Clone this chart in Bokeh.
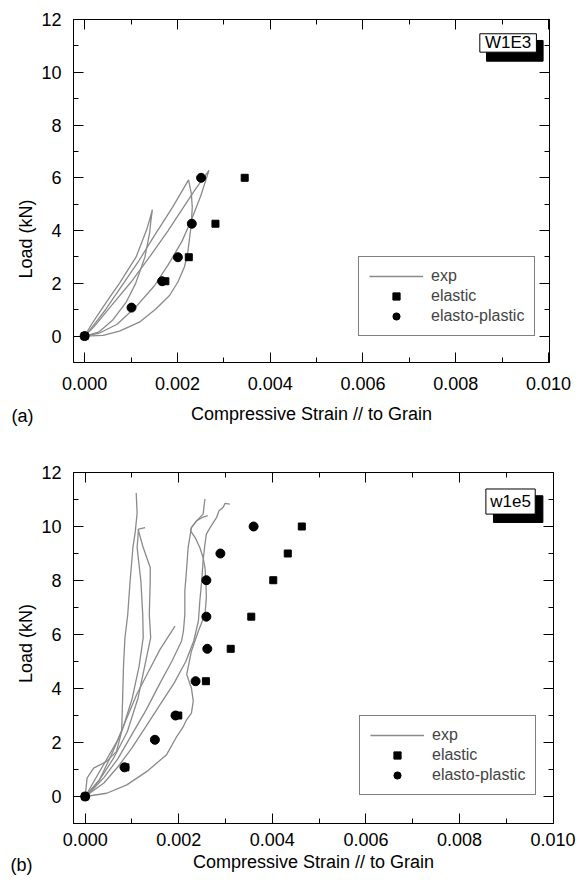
import numpy as np
from bokeh.plotting import figure
from bokeh.models import (LinearAxis, Range1d, FixedTicker, PrintfTickFormatter,
                          Legend, LegendItem, Label, BoxAnnotation)
from bokeh.layouts import column, row
from bokeh.core.properties import value
from bokeh.embed import file_html
from bokeh.resources import INLINE

FONT = "Liberation Sans"
GRAY = "#8a8a8a"

# ---------------- data ----------------
x_major = [0.000, 0.002, 0.004, 0.006, 0.008, 0.010]
x_minor = [0.001, 0.003, 0.005, 0.007, 0.009]
y_major = [0, 2, 4, 6, 8, 10, 12]
y_minor = [1, 3, 5, 7, 9, 11]

# panel (a) W1E3
a_el_strain = [0.0, 0.00174, 0.002245, 0.00282, 0.00345]
a_el_load = [0.0, 2.08, 2.99, 4.26, 6.0]
a_ep_strain = [0.0, 0.00101, 0.00167, 0.00201, 0.00231, 0.00251]
a_ep_load = [0.0, 1.08, 2.08, 2.99, 4.26, 6.0]

a_exp1_x = [0, 0.0003, 0.0006, 0.0009, 0.0011, 0.0013, 0.0014, 0.00143, 0.00146,
            0.00140, 0.00133, 0.00122, 0.00111, 0.00093, 0.00075, 0.00055, 0.00036, 0.00015, 0]
a_exp1_y = [0, 0.15, 0.6, 1.3, 2.0, 3.0, 3.9, 4.4, 4.79,
            4.4, 4.0, 3.5, 3.0, 2.5, 2.0, 1.5, 1.0, 0.45, 0]
a_exp2_x = [0, 0.0004, 0.00075, 0.00118, 0.00154, 0.00183, 0.00201, 0.00215, 0.00222,
            0.00226, 0.0023, 0.00232, 0.0023, 0.00224,
            0.0019, 0.0015, 0.00115, 0.0008, 0.00045, 0.0001, 0]
a_exp2_y = [0, 0.03, 0.19, 0.53, 1.04, 1.54, 2.05, 2.62, 3.12,
            3.69, 4.26, 4.89, 5.4, 5.92,
            4.9, 3.8, 2.8, 1.9, 1.0, 0.2, 0]
a_exp3_x = [0, 0.0003, 0.0007, 0.0011, 0.0015, 0.0018, 0.0021, 0.0023, 0.0025, 0.00268,
            0.0024, 0.0021, 0.0018, 0.0014, 0.001, 0.0006, 0.0002, 0]
a_exp3_y = [0, 0.1, 0.45, 1.1, 1.9, 2.7, 3.6, 4.4, 5.3, 6.28,
            5.6, 4.8, 4.0, 3.0, 2.05, 1.2, 0.35, 0]
a_exp = [(a_exp1_x, a_exp1_y), (a_exp2_x, a_exp2_y), (a_exp3_x, a_exp3_y)]

# panel (b) w1e5
b_el_strain = [0.0, 0.00086, 0.00199, 0.00258, 0.00311, 0.00355, 0.00402, 0.00433, 0.00463]
b_el_load = [0.0, 1.08, 3.0, 4.27, 5.47, 6.66, 8.01, 9.0, 10.0]
b_ep_strain = [0.0, 0.00084, 0.00149, 0.00193, 0.00236, 0.00261, 0.00259, 0.00259, 0.00289, 0.00360]
b_ep_load = [0.0, 1.08, 2.1, 3.0, 4.27, 5.47, 6.66, 8.01, 9.0, 10.0]

b_exp1_x = [0, 0.00004, 0.00018, 0.00046, 0.00067, 0.00078, 0.0008, 0.00082, 0.00085,
            0.00091, 0.00096, 0.00102, 0.00107, 0.00111, 0.00109]
b_exp1_y = [0, 0.68, 1.05, 1.3, 1.67, 2.41, 3.65, 4.89, 5.88,
            6.75, 7.98, 9.22, 9.8, 10.5, 11.24]
b_exp2_x = [0.00128, 0.00114, 0.00111, 0.00119, 0.00123, 0.00124, 0.00115, 0.001,
            0.0008, 0.00055, 0.0003, 0]
b_exp2_y = [9.96, 9.9, 9.22, 7.98, 6.75, 5.88, 4.8, 3.6, 2.5, 1.5, 0.6, 0]
b_exp3_x = [0.00113, 0.00124, 0.00139, 0.00139, 0.00137, 0.0014, 0.00128, 0.00113,
            0.0009, 0.0006, 0.0003, 0]
b_exp3_y = [9.9, 9.22, 8.48, 7.98, 6.75, 5.88, 4.89, 3.65, 2.4, 1.4, 0.6, 0]
b_exp4_x = [0, 0.00068, 0.00089, 0.0011, 0.00132, 0.0016, 0.00192]
b_exp4_y = [0, 2.04, 2.91, 3.78, 4.52, 5.45, 6.31]
b_exp5_x = [0, 0.00046, 0.00089, 0.00132, 0.00174, 0.00196, 0.0021, 0.00217, 0.00227,
            0.00231, 0.00227, 0.00217, 0.00227, 0.00242, 0.00256, 0.00259, 0.00258,
            0.00256, 0.00252, 0.00245, 0.00235, 0.00225, 0.00227, 0.00238, 0.00252, 0.00256]
b_exp5_y = [0, 0.12, 0.43, 0.93, 1.55, 2.23, 2.6, 2.85, 3.09,
            3.53, 4.02, 4.52, 5.38, 6.13, 6.75, 7.36, 7.98,
            8.48, 8.85, 9.22, 9.59, 9.84, 9.96, 10.21, 10.46, 11.02]
b_exp6_x = [0.00309, 0.00299, 0.00295, 0.00286, 0.00281, 0.00267, 0.00259, 0.00256,
            0.00252, 0.00249, 0.00245, 0.00242, 0.00232, 0.00215, 0.0019, 0.0016,
            0.0013, 0.001, 0.0007, 0.0004, 0]
b_exp6_y = [10.83, 10.86, 10.71, 10.58, 10.34, 9.96, 9.72, 9.35,
            8.73, 7.98, 7.24, 6.5, 5.76, 5.0, 4.2, 3.4,
            2.6, 1.8, 1.1, 0.5, 0]
b_exp7_x = [0.00262, 0.00252, 0.00238, 0.00227, 0.0022, 0.00217, 0.00213, 0.00213,
            0.0021, 0.00206, 0.00185, 0.0016, 0.0013, 0.001, 0.0007, 0.0004, 0.0001, 0]
b_exp7_y = [10.4, 10.35, 10.21, 9.96, 9.22, 8.48, 7.61, 6.75,
            6.13, 5.76, 5.0, 4.2, 3.2, 2.3, 1.4, 0.7, 0.15, 0]
b_exp = [(b_exp1_x, b_exp1_y), (b_exp2_x, b_exp2_y), (b_exp3_x, b_exp3_y),
         (b_exp4_x, b_exp4_y), (b_exp5_x, b_exp5_y), (b_exp6_x, b_exp6_y),
         (b_exp7_x, b_exp7_y)]

STRIP_W = 38
TOTAL_W = 576


def make_strip(height, ylab_xy, panel_lab):
    s = figure(width=STRIP_W, height=height, output_backend="svg", toolbar_location=None,
               x_range=Range1d(0, STRIP_W), y_range=Range1d(0, height),
               min_border=0, min_border_left=0, min_border_right=0,
               min_border_top=0, min_border_bottom=0,
               x_axis_location=None, y_axis_location=None)
    s.frame_align = False
    s.grid.visible = False
    s.outline_line_color = None
    s.background_fill_color = "white"
    s.border_fill_color = "white"
    s.text(x=[ylab_xy[0]], y=[height - ylab_xy[1]], text=["Load (kN)"], angle=np.pi / 2,
           text_align="center", text_baseline="middle", text_font=value(FONT),
           text_font_size="18px", text_color="black")
    s.text(x=[panel_lab[0]], y=[height - panel_lab[1]], text=[panel_lab[2]],
           text_align="left", text_baseline="middle", text_font=value(FONT),
           text_font_size="18px", text_color="black")
    return s


def make_panel(height, borders, xr, exp, el, ep, tag, tag_box, shadow_box,
               legend_loc, tick_std, title_std):
    top, bottom, left, right = borders
    p = figure(width=TOTAL_W - STRIP_W, height=height, output_backend="svg",
               toolbar_location=None,
               x_range=Range1d(*xr), y_range=Range1d(-1, 12),
               min_border_top=top, min_border_bottom=bottom,
               min_border_left=left, min_border_right=right,
               x_axis_location=None, y_axis_location=None)
    p.frame_align = False
    p.grid.visible = False
    p.outline_line_color = "black"
    p.outline_line_width = 1
    p.background_fill_color = "white"
    p.border_fill_color = "white"

    def style(ax, ticks, minor, show):
        ax.ticker = FixedTicker(ticks=ticks, minor_ticks=minor)
        ax.axis_line_color = "black"
        ax.major_tick_in = 10
        ax.major_tick_out = 0
        ax.minor_tick_in = 5
        ax.minor_tick_out = 0
        ax.major_tick_line_color = "black"
        ax.minor_tick_line_color = "black"
        ax.major_label_text_font = FONT
        if show:
            ax.major_label_text_font_size = "18px"
            ax.major_label_text_color = "black"
        else:
            ax.major_label_text_font_size = "1px"
            ax.major_label_text_color = None
            ax.major_label_standoff = 0
        ax.axis_label_text_font = FONT
        ax.axis_label_text_font_size = "18px"
        ax.axis_label_text_font_style = "normal"
        ax.axis_label_text_color = "black"

    xb = LinearAxis(formatter=PrintfTickFormatter(format="%.3f"))
    style(xb, x_major, x_minor, True)
    xb.major_label_standoff = tick_std
    xb.axis_label = "Compressive Strain // to Grain"
    xb.axis_label_standoff = title_std
    p.add_layout(xb, "below")
    xa = LinearAxis()
    style(xa, x_major, x_minor, False)
    p.add_layout(xa, "above")
    yl = LinearAxis()
    style(yl, y_major, y_minor, True)
    yl.major_label_standoff = 12
    p.add_layout(yl, "left")
    yr = LinearAxis()
    style(yr, y_major, y_minor, False)
    p.add_layout(yr, "right")

    exp_r = None
    for xs, ys in exp:
        r = p.line(xs, ys, line_color=GRAY, line_width=1.3)
        if exp_r is None:
            exp_r = r
    el_r = p.scatter(el[0], el[1], marker="square", size=7, fill_color="black",
                     line_color="black")
    ep_r = p.scatter(ep[0], ep[1], marker="circle", size=9, fill_color="black",
                     line_color="black")

    leg = Legend(items=[LegendItem(label="exp", renderers=[exp_r]),
                        LegendItem(label="elastic", renderers=[el_r]),
                        LegendItem(label="elasto-plastic", renderers=[ep_r])],
                 location=legend_loc, orientation="vertical",
                 label_text_font=FONT, label_text_font_size="16px",
                 border_line_color="black", border_line_width=1,
                 background_fill_color="white", background_fill_alpha=1,
                 padding=10, spacing=2, glyph_width=54, glyph_height=18,
                 label_height=18, label_standoff=8, margin=0)
    p.add_layout(leg)

    l, r_, t, b = shadow_box
    p.add_layout(BoxAnnotation(left=l, right=r_, top=t, bottom=b, fill_color="black",
                               fill_alpha=1, line_color="black", line_alpha=1))
    l, r_, t, b = tag_box
    p.add_layout(BoxAnnotation(left=l, right=r_, top=t, bottom=b, fill_color="white",
                               fill_alpha=1, line_color="black", line_width=1,
                               line_alpha=1))
    p.add_layout(Label(x=(l + r_) / 2, y=(t + b) / 2, text=tag, text_font=FONT,
                       text_font_size="17px", text_align="center",
                       text_baseline="middle", text_color="black"))
    return p


H1 = 430
H2 = 458
s1 = make_strip(H1, (25.5, 238.5), (11, 415.4, "(a)"))
p1 = make_panel(H1, (19, H1 - 362, 72 - STRIP_W, TOTAL_W - 549), (-0.00024, 0.01002), a_exp,
                (a_el_strain, a_el_load), (a_ep_strain, a_ep_load), "W1E3",
                (0.008518, 0.009738, 11.459, 10.762),
                (0.008662, 0.009882, 11.205, 10.42),
                (285, 26), 14, 11)
s2 = make_strip(H2, (25.5, 643 - H1), (10, 864 - H1, "(b)"))
p2 = make_panel(H2, (42, H2 - 42 - 351, 73 - STRIP_W, TOTAL_W - STRIP_W - (73 - STRIP_W) - 480),
                (-0.00025, 0.01001), b_exp,
                (b_el_strain, b_el_load), (b_ep_strain, b_ep_load), "w1e5",
                (0.008565, 0.009619, 11.389, 10.46),
                (0.008727, 0.009783, 11.14, 10.149),
                (286, 28), 9, 3)

lay = column(row(s1, p1, spacing=0), row(s2, p2, spacing=0), spacing=0)
open("out.html", "w").write(file_html(lay, INLINE))
